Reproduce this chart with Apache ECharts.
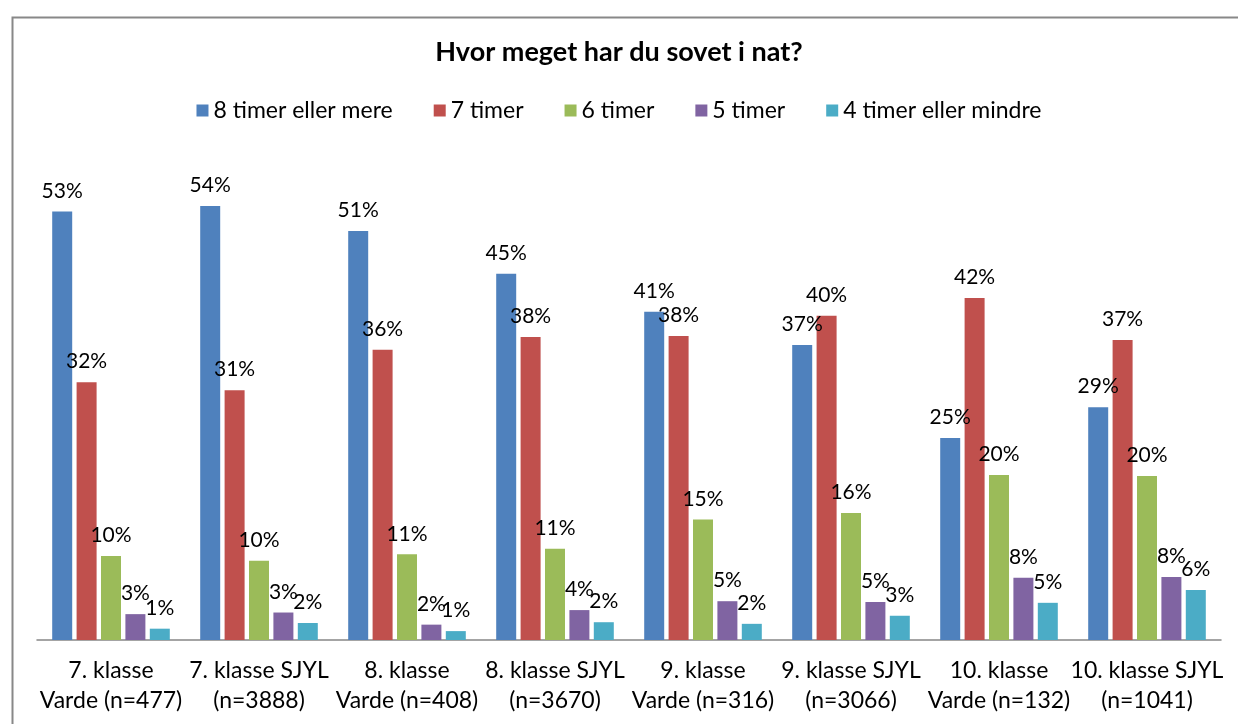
<!DOCTYPE html>
<html><head><meta charset="utf-8">
<script src="https://cdn.jsdelivr.net/npm/echarts@6/dist/echarts.min.js"></script>
<style>html,body{margin:0;padding:0;background:#fff}#c{width:1238px;height:724px}</style>
</head><body><div id="c"></div>
<script>
const categories = ['7. klasse\nVarde (n=477)','7. klasse SJYL\n(n=3888)','8. klasse\nVarde (n=408)','8. klasse SJYL\n(n=3670)','9. klasse\nVarde (n=316)','9. klasse SJYL\n(n=3066)','10. klasse\nVarde (n=132)','10. klasse SJYL\n(n=1041)'];
const seriesNames = ['8 timer eller mere','7 timer','6 timer','5 timer','4 timer eller mindre'];
const s8 = [53.0, 53.7, 50.6, 45.3, 40.6, 36.5, 25.0, 28.8];
const s7 = [31.9, 30.9, 35.9, 37.5, 37.6, 40.1, 42.3, 37.1];
const s6 = [10.4, 9.8, 10.6, 11.3, 14.9, 15.7, 20.4, 20.3];
const s5 = [3.2, 3.4, 1.9, 3.7, 4.8, 4.7, 7.7, 7.8];
const s4 = [1.4, 2.1, 1.1, 2.2, 2.0, 3.0, 4.6, 6.2];
const colors = ['#4F81BD','#C0504D','#9BBB59','#8064A2','#4BACC6'];
const font = 'Lato, "Open Sans", sans-serif';
const chart = echarts.init(document.getElementById('c'));
const all = [s8,s7,s6,s5,s4];
chart.setOption({
  animation:false,
  title:{text:'Hvor meget har du sovet i nat?',left:'center',top:34,textStyle:{fontFamily:font,fontSize:27,fontWeight:'bold',color:'#000'}},
  legend:{top:94,left:'center',itemWidth:12,itemHeight:12,itemGap:41,icon:'rect',textStyle:{fontFamily:font,fontSize:23,color:'#000'},data:seriesNames},
  graphic:[{type:'rect',left:10,top:15,shape:{width:1240,height:720},style:{fill:'none',stroke:'#888',lineWidth:2},silent:true}],
  grid:{left:37,right:17,top:155,bottom:84},
  xAxis:{type:'category',data:categories,axisTick:{show:false},axisLine:{lineStyle:{color:'#868686',width:1.5}},
    axisLabel:{fontFamily:font,fontSize:23,color:'#000',lineHeight:30,margin:16,interval:0}},
  yAxis:{type:'value',min:0,max:60,show:false,splitLine:{show:false}},
  series: all.map((d,i)=>({name:seriesNames[i],type:'bar',data:d,barWidth:20,barGap:'22%',barCategoryGap:'20%',
    itemStyle:{color:colors[i]},
    label:{show:true,position:'top',distance:10,fontFamily:font,fontSize:21,color:'#000',formatter:p=>Math.round(p.value)+'%'}}))
});
</script></body></html>
